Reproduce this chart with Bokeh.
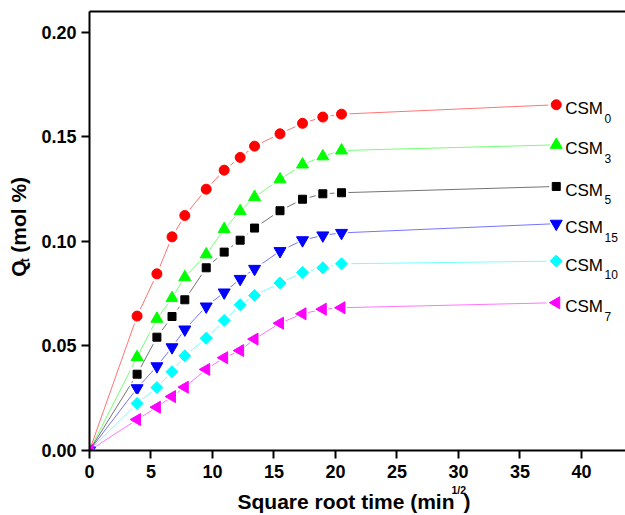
import math
from bokeh.plotting import figure
from bokeh.layouts import column, row
from bokeh.models import Range1d, FixedTicker, NumeralTickFormatter, LinearAxis
from bokeh.core.properties import value
from bokeh.embed import file_html
from bokeh.resources import INLINE

# ---- data ----
sqrt_time = [0, 3.87, 5.48, 6.71, 7.75, 9.49, 10.95, 12.25, 13.42, 15.49, 17.32, 18.97, 20.49, 37.95]
csm0 = [0, 0.0643, 0.0845, 0.1022, 0.1124, 0.1250, 0.1341, 0.1402, 0.1456, 0.1515, 0.1565, 0.1595, 0.1609, 0.1654]
csm3 = [0, 0.0447, 0.0630, 0.0729, 0.0829, 0.0938, 0.1059, 0.1145, 0.1212, 0.1297, 0.1368, 0.1407, 0.1435, 0.1462]
csm5 = [0, 0.0365, 0.0542, 0.0641, 0.0721, 0.0874, 0.0949, 0.1006, 0.1064, 0.1147, 0.1202, 0.1228, 0.1233, 0.1263]
csm15 = [0, 0.0298, 0.0403, 0.0494, 0.0579, 0.0689, 0.0756, 0.0821, 0.0869, 0.0954, 0.1006, 0.1029, 0.1041, 0.1085]
csm10 = [0, 0.0225, 0.0301, 0.0377, 0.0453, 0.0537, 0.0622, 0.0697, 0.0742, 0.0801, 0.0852, 0.0874, 0.0893, 0.0906]
csm7 = [0, 0.0148, 0.0207, 0.0258, 0.0303, 0.0388, 0.0444, 0.0478, 0.0533, 0.0609, 0.0654, 0.0676, 0.0683, 0.0707]
series_subscripts = ["0", "3", "5", "15", "10", "7"]
x_ticks = [0, 5, 10, 15, 20, 25, 30, 35, 40]
y_ticks = [0.00, 0.05, 0.10, 0.15, 0.20]
x_title = ["Square root time (min", "1/2", ")"]
y_title = ["Q", "t", "(mol %)"]

FONT = "Liberation Sans"
W, H = 625, 515
YLAB_W = 38
MAIN_H = 485
BASE_SHIFT = 0.3  # Bokeh draws "alphabetic" text about 0.3*font size below the anchor

# ---------------- main plot ----------------
X0, X1 = 0, 43.58
Y0, Y1 = 0, 0.21
p = figure(width=W - YLAB_W, height=MAIN_H, output_backend="svg", toolbar_location=None,
           x_range=Range1d(X0, X1), y_range=Range1d(Y0, Y1),
           min_border_left=89 - YLAB_W, min_border_right=0, min_border_top=11,
           min_border_bottom=MAIN_H - 450)
p.xgrid.visible = False
p.ygrid.visible = False
p.outline_line_color = None
p.background_fill_color = "white"
p.border_fill_color = "white"

for ax, ticks in ((p.xaxis[0], x_ticks), (p.yaxis[0], y_ticks)):
    ax.ticker = FixedTicker(ticks=ticks, minor_ticks=[])
    ax.axis_line_width = 2
    ax.axis_line_color = "black"
    ax.major_tick_line_width = 2
    ax.major_tick_line_color = "black"
    ax.major_tick_in = 0
    ax.major_tick_out = 8
    ax.minor_tick_line_color = None
    ax.major_label_text_font = FONT
    ax.major_label_text_font_style = "bold"
    ax.major_label_text_font_size = "18px"
    ax.major_label_text_color = "black"
p.yaxis[0].formatter = NumeralTickFormatter(format="0.00")
p.yaxis[0].major_label_standoff = 5
p.xaxis[0].major_label_standoff = 6

top = LinearAxis(ticker=FixedTicker(ticks=[], minor_ticks=[]), major_label_text_font_size="0px",
                 major_tick_out=0, major_tick_in=0, minor_tick_out=0, minor_tick_in=0,
                 major_label_standoff=0, axis_line_width=2, axis_line_color="black")
p.add_layout(top, "above")

styles = [
    (csm0, "circle", 10, "red"),
    (csm3, "triangle", 12, "#00FF00"),
    (csm5, "square", 8, "black"),
    (csm15, "inverted_triangle", 12, "blue"),
    (csm10, "diamond_sq", 8.5, "#00FFFF"),
    (csm7, "triangle_left", 12, "magenta"),
]

FS_LAB, FS_SUB = 17, 12
for (ys, marker, size, color), sub in zip(styles, series_subscripts):
    p.line(sqrt_time, ys, line_color=color, line_width=1, line_alpha=0.55)
    angle = 0.0
    mk = marker
    if marker == "diamond_sq":
        mk, angle = "square", math.pi / 4
    elif marker == "triangle_left":
        mk, angle = "triangle", math.pi / 2
    p.scatter(sqrt_time[1:], ys[1:], marker=mk, angle=angle, size=size + 5,
              fill_color="white", line_color="white")
    p.scatter(sqrt_time, ys, marker=mk, angle=angle, size=size,
              fill_color=color, line_color=color)
    p.text([sqrt_time[-1]], [ys[-1]], text=["CSM"], x_offset=9,
           y_offset=9 - BASE_SHIFT * FS_LAB,
           text_font=value(FONT), text_font_size=f"{FS_LAB}px", text_color="black",
           text_baseline="alphabetic", text_align="left")
    p.text([sqrt_time[-1]], [ys[-1]], text=[sub], x_offset=9 + 2.222 * FS_LAB + 1.5,
           y_offset=17 - BASE_SHIFT * FS_SUB,
           text_font=value(FONT), text_font_size=f"{FS_SUB}px", text_color="black",
           text_baseline="alphabetic", text_align="left")


def blank(width, height, y_top):
    """A figure whose data coordinates equal page pixels (y grows downwards)."""
    f = figure(width=width, height=height, output_backend="svg", toolbar_location=None,
               x_range=Range1d(0, width), y_range=Range1d(y_top + height, y_top),
               min_border=0, x_axis_location=None, y_axis_location=None, title=None)
    f.xgrid.visible = False
    f.ygrid.visible = False
    f.outline_line_color = None
    f.border_fill_color = "white"
    f.background_fill_color = "white"
    return f


txt = dict(text_font=value(FONT), text_font_style="bold", text_color="black",
           text_baseline="alphabetic")

# ---------------- y title (rotated, reads upwards) ----------------
ylab = blank(YLAB_W, MAIN_H, 0)
for s, fs, base_x, start_y in ((y_title[0], 21, 24.5, 293),
                               (y_title[1], 12, 28.5, 277),
                               (y_title[2], 21, 24.5, 266.5)):
    ylab.text([base_x - BASE_SHIFT * fs], [start_y], text=[s], angle=math.pi / 2,
              text_font_size=f"{fs}px", text_align="left", **txt)

# ---------------- x title ----------------
xlab = blank(W, H - MAIN_H, MAIN_H)
for s, fs, xpos, base_y, align in ((x_title[0], 21, 454, 507, "right"),
                                   (x_title[1], 10.5, 451, 492.8, "left"),
                                   (x_title[2], 21, 463, 507, "left")):
    xlab.text([xpos], [base_y - BASE_SHIFT * fs], text=[s], text_font_size=f"{fs}px",
              text_align=align, **txt)

layout = column(row(ylab, p, spacing=0), xlab, spacing=0)
open("out.html", "w").write(file_html(layout, INLINE))
